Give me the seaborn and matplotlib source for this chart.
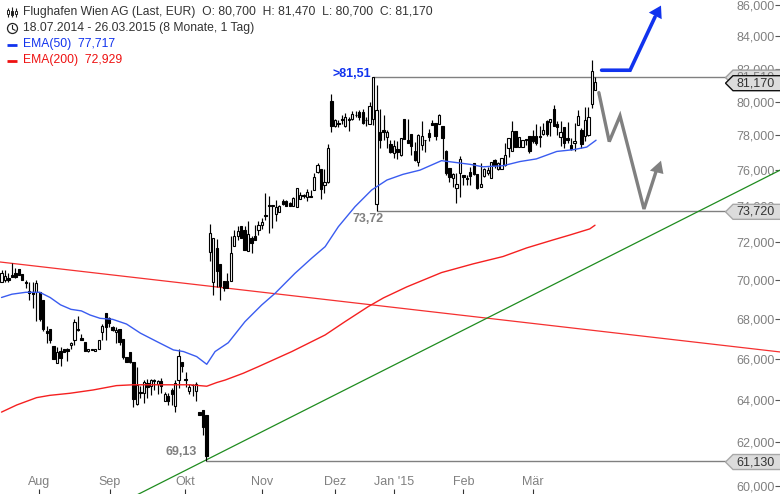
import numpy as np
import pandas as pd
import matplotlib
matplotlib.use("Agg")
import matplotlib.pyplot as plt
from matplotlib.patches import Polygon, Circle
from matplotlib.lines import Line2D
from matplotlib.transforms import IdentityTransform
from matplotlib.ticker import FixedLocator, FixedFormatter, NullLocator
import seaborn as sns

opens = [69.92,70.01,70.10,70.27,70.36,70.58,70.33,69.88,69.41,69.35,
 69.35,69.35,68.95,67.36,67.48,66.65,65.80,66.36,66.48,66.48,
 66.70,66.92,67.48,67.03,66.83,66.40,66.48,66.40,66.48,67.33,
 68.28,68.05,67.58,67.33,67.48,66.98,66.08,66.33,65.85,63.79,
 64.36,64.32,64.80,64.67,64.96,64.75,64.91,63.92,64.19,64.48,
 63.70,64.93,65.85,65.00,64.40,64.72,64.40,63.41,63.52,63.29,
 71.48,69.88,71.68,70.84,69.93,69.96,69.93,71.78,72.33,72.91,
 72.69,71.51,72.24,72.36,72.65,72.96,73.49,74.04,74.04,73.56,
 73.64,74.29,74.27,74.14,73.96,73.93,74.37,74.61,74.48,74.55,
 74.89,75.87,76.04,75.16,75.35,80.03,78.56,78.71,78.95,78.56,
 78.97,78.95,79.23,79.36,79.36,78.93,78.66,78.96,74.08,78.18,
 78.33,77.88,77.51,76.97,77.22,76.87,78.96,77.75,78.08,77.11,
 76.49,77.46,77.74,78.14,78.72,78.72,78.66,78.57,77.11,76.10,
 75.53,74.97,75.81,75.72,75.57,75.91,76.39,75.78,75.06,75.66,
 75.81,75.57,76.58,76.04,76.04,76.29,77.26,77.07,78.23,77.32,
 77.32,77.79,77.98,77.98,77.94,77.96,78.06,78.82,78.76,79.55,
 78.68,77.90,78.49,77.84,77.46,77.55,78.59,78.33,77.94,78.00,
 79.84,80.70]
highs = [70.54,70.54,70.36,70.88,70.63,70.58,70.33,69.98,69.88,69.88,
 70.01,69.35,68.95,67.61,67.48,66.65,66.58,66.58,66.48,66.53,
 66.83,67.98,68.13,67.23,66.83,66.48,66.50,66.50,66.95,67.75,
 68.28,68.11,67.63,67.58,67.48,66.98,66.08,66.33,65.85,65.61,
 64.66,64.96,65.01,64.99,65.01,64.96,65.06,64.36,64.32,64.56,
 64.96,66.46,65.85,65.36,64.75,64.76,64.85,63.41,63.52,63.29,
 73.00,72.24,72.19,70.84,69.93,70.36,72.34,72.69,72.87,72.91,
 72.87,73.14,72.33,72.93,73.14,73.32,74.69,74.55,74.06,74.33,
 74.06,74.37,74.32,74.20,74.48,74.98,74.79,74.66,74.92,74.89,
 75.81,76.38,76.04,76.09,77.49,80.48,78.95,78.91,79.21,79.31,
 79.11,79.46,79.46,79.51,79.54,79.11,79.95,81.51,81.00,79.57,
 79.18,78.33,77.75,77.75,77.69,77.84,78.96,78.96,78.08,77.61,
 78.08,78.86,77.75,78.37,78.92,78.72,79.27,78.57,77.17,76.10,
 75.81,75.81,76.81,75.72,75.72,76.15,76.39,75.78,76.39,76.10,
 76.19,76.45,76.62,76.49,76.68,77.55,77.84,78.82,78.23,77.90,
 77.75,77.80,77.98,78.33,78.65,78.57,78.72,78.88,78.96,79.80,
 78.82,78.82,78.49,78.76,77.84,78.72,79.51,78.43,79.70,79.70,
 82.53,81.47]
lows = [69.92,69.92,69.92,70.15,70.10,70.27,70.01,69.58,68.98,68.55,
 67.86,67.86,67.36,66.78,66.78,66.00,65.80,65.66,66.35,65.90,
 66.48,66.70,67.36,66.95,66.38,66.33,66.43,66.38,66.48,66.92,
 66.95,67.58,67.38,66.78,66.68,66.00,65.85,65.76,63.65,63.76,
 64.06,63.84,64.06,64.24,64.48,64.27,64.32,63.92,63.76,63.76,
 63.40,64.56,65.36,64.59,64.28,64.16,63.92,63.29,62.33,61.13,
 70.98,69.23,69.66,68.96,69.41,69.58,69.93,71.78,72.14,72.24,
 71.60,71.51,71.42,72.11,72.42,72.73,73.24,72.51,72.79,73.14,
 73.64,74.06,74.00,73.96,73.96,73.93,74.37,74.42,74.29,74.46,
 74.89,75.81,74.37,74.69,75.26,78.19,78.52,78.52,78.68,78.52,
 78.28,78.91,79.11,78.91,78.68,78.56,78.66,78.62,73.72,77.26,
 77.75,77.26,76.97,76.68,76.62,76.83,77.79,77.55,76.87,76.52,
 76.25,77.17,77.01,77.65,78.59,77.75,78.66,76.64,75.72,75.35,
 75.06,74.17,74.50,75.16,75.16,75.16,75.72,74.93,75.06,75.63,
 75.72,75.57,76.10,76.00,76.04,76.23,76.77,77.07,77.30,77.32,
 77.32,77.46,76.97,77.55,77.46,77.32,78.04,77.98,77.94,78.53,
 78.04,77.36,77.26,77.55,77.13,77.07,78.59,77.26,77.65,77.94,
 79.61,80.70]
closes = [70.36,70.22,69.98,70.15,70.15,70.27,70.01,69.84,69.32,69.28,
 69.84,67.98,67.50,67.28,66.95,66.00,66.33,66.03,66.35,66.36,
 66.78,67.83,67.45,66.95,66.40,66.46,66.45,66.48,66.95,67.61,
 67.58,67.78,67.41,67.45,66.83,66.08,65.85,65.85,64.03,64.72,
 64.32,64.85,64.59,64.96,64.88,64.88,64.64,64.28,63.96,64.28,
 64.80,66.13,65.66,64.95,64.61,64.69,64.75,63.29,62.70,61.35,
 72.51,72.24,70.45,69.71,69.58,69.58,71.43,72.36,72.64,72.24,
 71.60,72.45,71.96,72.11,72.96,73.09,73.41,73.96,73.99,73.93,
 74.00,74.09,74.00,73.96,74.42,74.98,74.59,74.55,74.79,74.46,
 75.59,76.32,74.92,75.35,77.29,78.56,78.91,78.66,78.91,79.07,
 78.93,79.25,79.19,79.07,78.71,78.89,79.74,81.51,79.47,77.71,
 78.18,78.22,77.01,77.36,77.01,77.84,77.79,77.55,77.36,76.58,
 78.02,77.98,77.71,77.88,78.59,77.94,79.18,77.84,75.81,75.63,
 75.76,75.20,76.62,75.59,75.48,75.68,75.78,74.97,75.20,76.04,
 75.98,76.45,76.29,76.43,76.68,76.87,77.84,78.27,77.30,77.90,
 77.75,77.73,77.07,77.65,77.55,77.92,78.33,78.06,78.96,78.57,
 78.47,78.18,77.55,77.71,77.20,77.69,79.16,77.50,78.88,79.08,
 81.86,81.17]

ema50_days = [0,3,7,11,14,17,20,23,25.5,28.4,32,36,40,44.7,49.5,52.4,56.2,59.1,61.5,65.3,70.1,74.9,78.8,
 84.5,89.3,93.2,97,101.8,106.6,111,115.6,120.5,126.7,131,134.9,138.6,144.4,149.3,154,159.9,164.6,168.5,171.2]
ema50_vals = [69.09,69.26,69.36,69.36,69.09,68.71,68.48,68.40,68.19,68.02,67.97,67.73,67.27,66.85,66.43,66.35,66.10,65.72,66.35,66.79,67.85,68.70,69.31,
 70.35,71.15,71.77,72.85,73.95,74.88,75.44,75.76,76.00,76.54,76.43,76.33,76.19,76.25,76.49,76.64,77.07,77.17,77.32,77.72]
ema200_days = [0,4.4,10.1,13.9,19.7,26.4,33.1,37.9,45.6,54.3,59.1,62,64.4,69.6,73.9,
 83.6,93.2,98.9,105.6,110,116.7,126.7,135.8,144.4,151.2,158.8,163.7,169.4,170.9]
ema200_vals = [63.41,63.75,64.10,64.21,64.31,64.47,64.68,64.72,64.72,64.72,64.65,64.83,64.95,65.28,65.60,
 66.35,67.18,67.85,68.62,69.07,69.64,70.39,70.85,71.24,71.70,72.13,72.40,72.73,72.93]

red_trend_days = [-0.43,224.2]
red_trend_vals = [70.95,66.33]
green_trend_days = [39,224.2]
green_trend_vals = [59.6,76.0]

level_days = [107,108,59]
level_vals = [81.51,73.72,61.13]

blue_path_days = [172.8,181,188.2]
blue_path_vals = [81.9,81.9,85.24]
blue_head_days = [186.4,189.9,190.1]
blue_head_vals = [85.51,85.96,85.09]
gray_path_days = [172,175,178.1,185,188.6]
gray_path_vals = [80.54,77.64,79.15,73.82,76.0]
gray_head_days = [186.7,189.9,190.6]
gray_head_vals = [75.97,76.54,75.78]

ytick_vals = [60,62,64,66,68,70,72,74,76,78,80,82,84,86]
ytick_labels = ["60,000","62,000","64,000","66,000","68,000","70,000","72,000","74,000","76,000","78,000","80,000","82,000","84,000","86,000"]
xtick_days = [10.9,31.15,52.9,75.1,96.1,113.1,133.0,153.1]
xtick_labels = ["Aug","Sep","Okt","Nov","Dez","Jan '15","Feb","Mär"]

W, H = 780, 494
sns.set_theme(style="white")
plt.rcParams['font.family'] = ['Liberation Sans', 'DejaVu Sans']
fig = plt.figure(figsize=(W/100, H/100), dpi=100, facecolor='white')
ax = fig.add_axes([0, 0, 1, 1])
ax.set_yscale('log')

BLUE = '#1133ee'
GRAY = '#808080'
days = np.arange(len(opens))
o, h, l, c = map(np.array, (opens, highs, lows, closes))
up = c >= o

# candles
ax.vlines(days, l, h, color='black', lw=0.85, zorder=3)
ax.bar(days[up], (c - o)[up], bottom=o[up], width=0.66, facecolor='white',
       edgecolor='black', linewidth=0.8, zorder=3.2)
ax.bar(days[~up], (o - c)[~up], bottom=c[~up], width=0.66, facecolor='black',
       edgecolor='black', linewidth=0.8, zorder=3.2)

# EMAs and trend lines
ema50 = pd.DataFrame({'d': ema50_days, 'v': ema50_vals})
ema200 = pd.DataFrame({'d': ema200_days, 'v': ema200_vals})
sns.lineplot(data=ema50, x='d', y='v', ax=ax, color='#3a5cf0', lw=1.0, zorder=4, estimator=None, sort=False)
sns.lineplot(data=ema200, x='d', y='v', ax=ax, color='#f52020', lw=1.0, zorder=4, estimator=None, sort=False)
sns.lineplot(x=red_trend_days, y=red_trend_vals, ax=ax, color='#f53030', lw=0.9, zorder=2.8, estimator=None, sort=False)
sns.lineplot(x=green_trend_days, y=green_trend_vals, ax=ax, color='#1f8c1f', lw=0.9, zorder=2.8, estimator=None, sort=False)
ax.hlines(level_vals, level_days, 224.2, color=GRAY, lw=1.0, zorder=2.5)

# drawn arrows
ax.plot(blue_path_days, blue_path_vals, color=BLUE, lw=2.6, zorder=5, solid_joinstyle='miter')
ax.fill(blue_head_days, blue_head_vals, color=BLUE, zorder=5, lw=0)
ax.plot(gray_path_days, gray_path_vals, color=GRAY, lw=2.4, zorder=5, solid_joinstyle='miter')
ax.fill(gray_head_days, gray_head_vals, color=GRAY, zorder=5, lw=0)

# axes
ax.set_xlim(-0.432, 224.17)
ax.set_ylim(59.64, 86.32)
ax.set_xlabel(''); ax.set_ylabel('')
for s in ax.spines.values():
    s.set_visible(False)
ax.yaxis.set_major_locator(FixedLocator(ytick_vals))
ax.yaxis.set_major_formatter(FixedFormatter(ytick_labels))
ax.yaxis.set_minor_locator(NullLocator())
ax.yaxis.tick_right()
ax.tick_params(axis='y', which='major', right=True, direction='in', length=3.6, width=0.8, color='#555555',
               pad=-3.6, labelsize=9, labelcolor=GRAY)
for t in ax.get_yticklabels():
    t.set_ha('right')
ax.set_xticks(xtick_days)
ax.set_xticklabels(xtick_labels)
ax.tick_params(axis='x', which='major', bottom=True, direction='in', length=3.6, width=0.8, color='#333333',
               pad=-13.0, labelsize=9, labelcolor=GRAY)

# value annotations
ax.text(106.4, 81.65, '>81,51', color=BLUE, fontsize=9, fontweight='bold', ha='right', va='center', zorder=6)
ax.text(110.1, 73.27, '73,72', color=GRAY, fontsize=9, fontweight='bold', ha='right', va='center', zorder=6)
ax.text(56.3, 61.56, '69,13', color=GRAY, fontsize=9, fontweight='bold', ha='right', va='center', zorder=6)

# pixel helpers
idt = IdentityTransform()
def P(pts):
    return [(x, H - y) for x, y in pts]
def pline(xs, ys, color, lw, z=6):
    fig.add_artist(Line2D(xs, [H - y for y in ys], color=color, lw=lw, transform=idt, zorder=z, solid_capstyle='butt'))

# price tags on the right
def tag(value, text, edge, z, txt='#333333'):
    yc = H - ax.transData.transform((0, value))[1] + 1
    top, bot = yc - 7.5, yc + 7.5
    pts = P([(725.5, yc), (733, top), (781, top), (781, bot), (733, bot)])
    fig.add_artist(Polygon(pts, closed=True, facecolor='#dcdcdc', edgecolor=edge, lw=1.0, transform=idt, zorder=z))
    fig.text(775 / W, 1 - yc / H, text, color=txt, fontsize=9, ha='right', va='center', zorder=z + 0.1)

tag(81.51, '81,510', '#a0a0a0', 10, GRAY)
tag(81.17, '81,170', '#111111', 11)
tag(73.72, '73,720', '#a8a8a8', 10)
tag(61.13, '61,130', '#a8a8a8', 10)

# header
hx = 23 / W
def head(y, s, col):
    fig.text(hx, 1 - y / H, s, color=col, fontsize=8.75, va='center', ha='left')
head(12.5, 'Flughafen Wien AG (Last, EUR)  O: 80,700  H: 81,470  L: 80,700  C: 81,170', '#333333')
head(28.5, '18.07.2014 - 26.03.2015 (8 Monate, 1 Tag)', '#333333')
head(44.5, 'EMA(50)  77,717', BLUE)
head(60.5, 'EMA(200)  72,929', '#ee1111')
pline([7, 17], [44.5, 44.5], BLUE, 2.0)
pline([7, 17], [60.5, 60.5], '#ee1111', 2.0)

# candle icon
for x, y0, y1, b0, b1 in [(8, 8, 17, 10, 14), (12, 7, 17, 11, 15), (16, 8, 17, 11, 14)]:
    pline([x, x], [y0, y1], '#222222', 0.8)
    fig.add_artist(Polygon(P([(x - 1.2, b0), (x + 1.2, b0), (x + 1.2, b1), (x - 1.2, b1)]), closed=True,
                           facecolor='#222222' if x == 12 else 'white', edgecolor='#222222', lw=0.7, transform=idt, zorder=6))
# clock icon
fig.add_artist(Circle((12.5, H - 28.5), 5, facecolor='none', edgecolor='#222222', lw=0.9, transform=idt, zorder=6))
pline([12.5, 12.5, 15.5], [25, 29, 30.5], '#222222', 0.8)

fig.savefig('out.png', dpi=100, facecolor='white')
